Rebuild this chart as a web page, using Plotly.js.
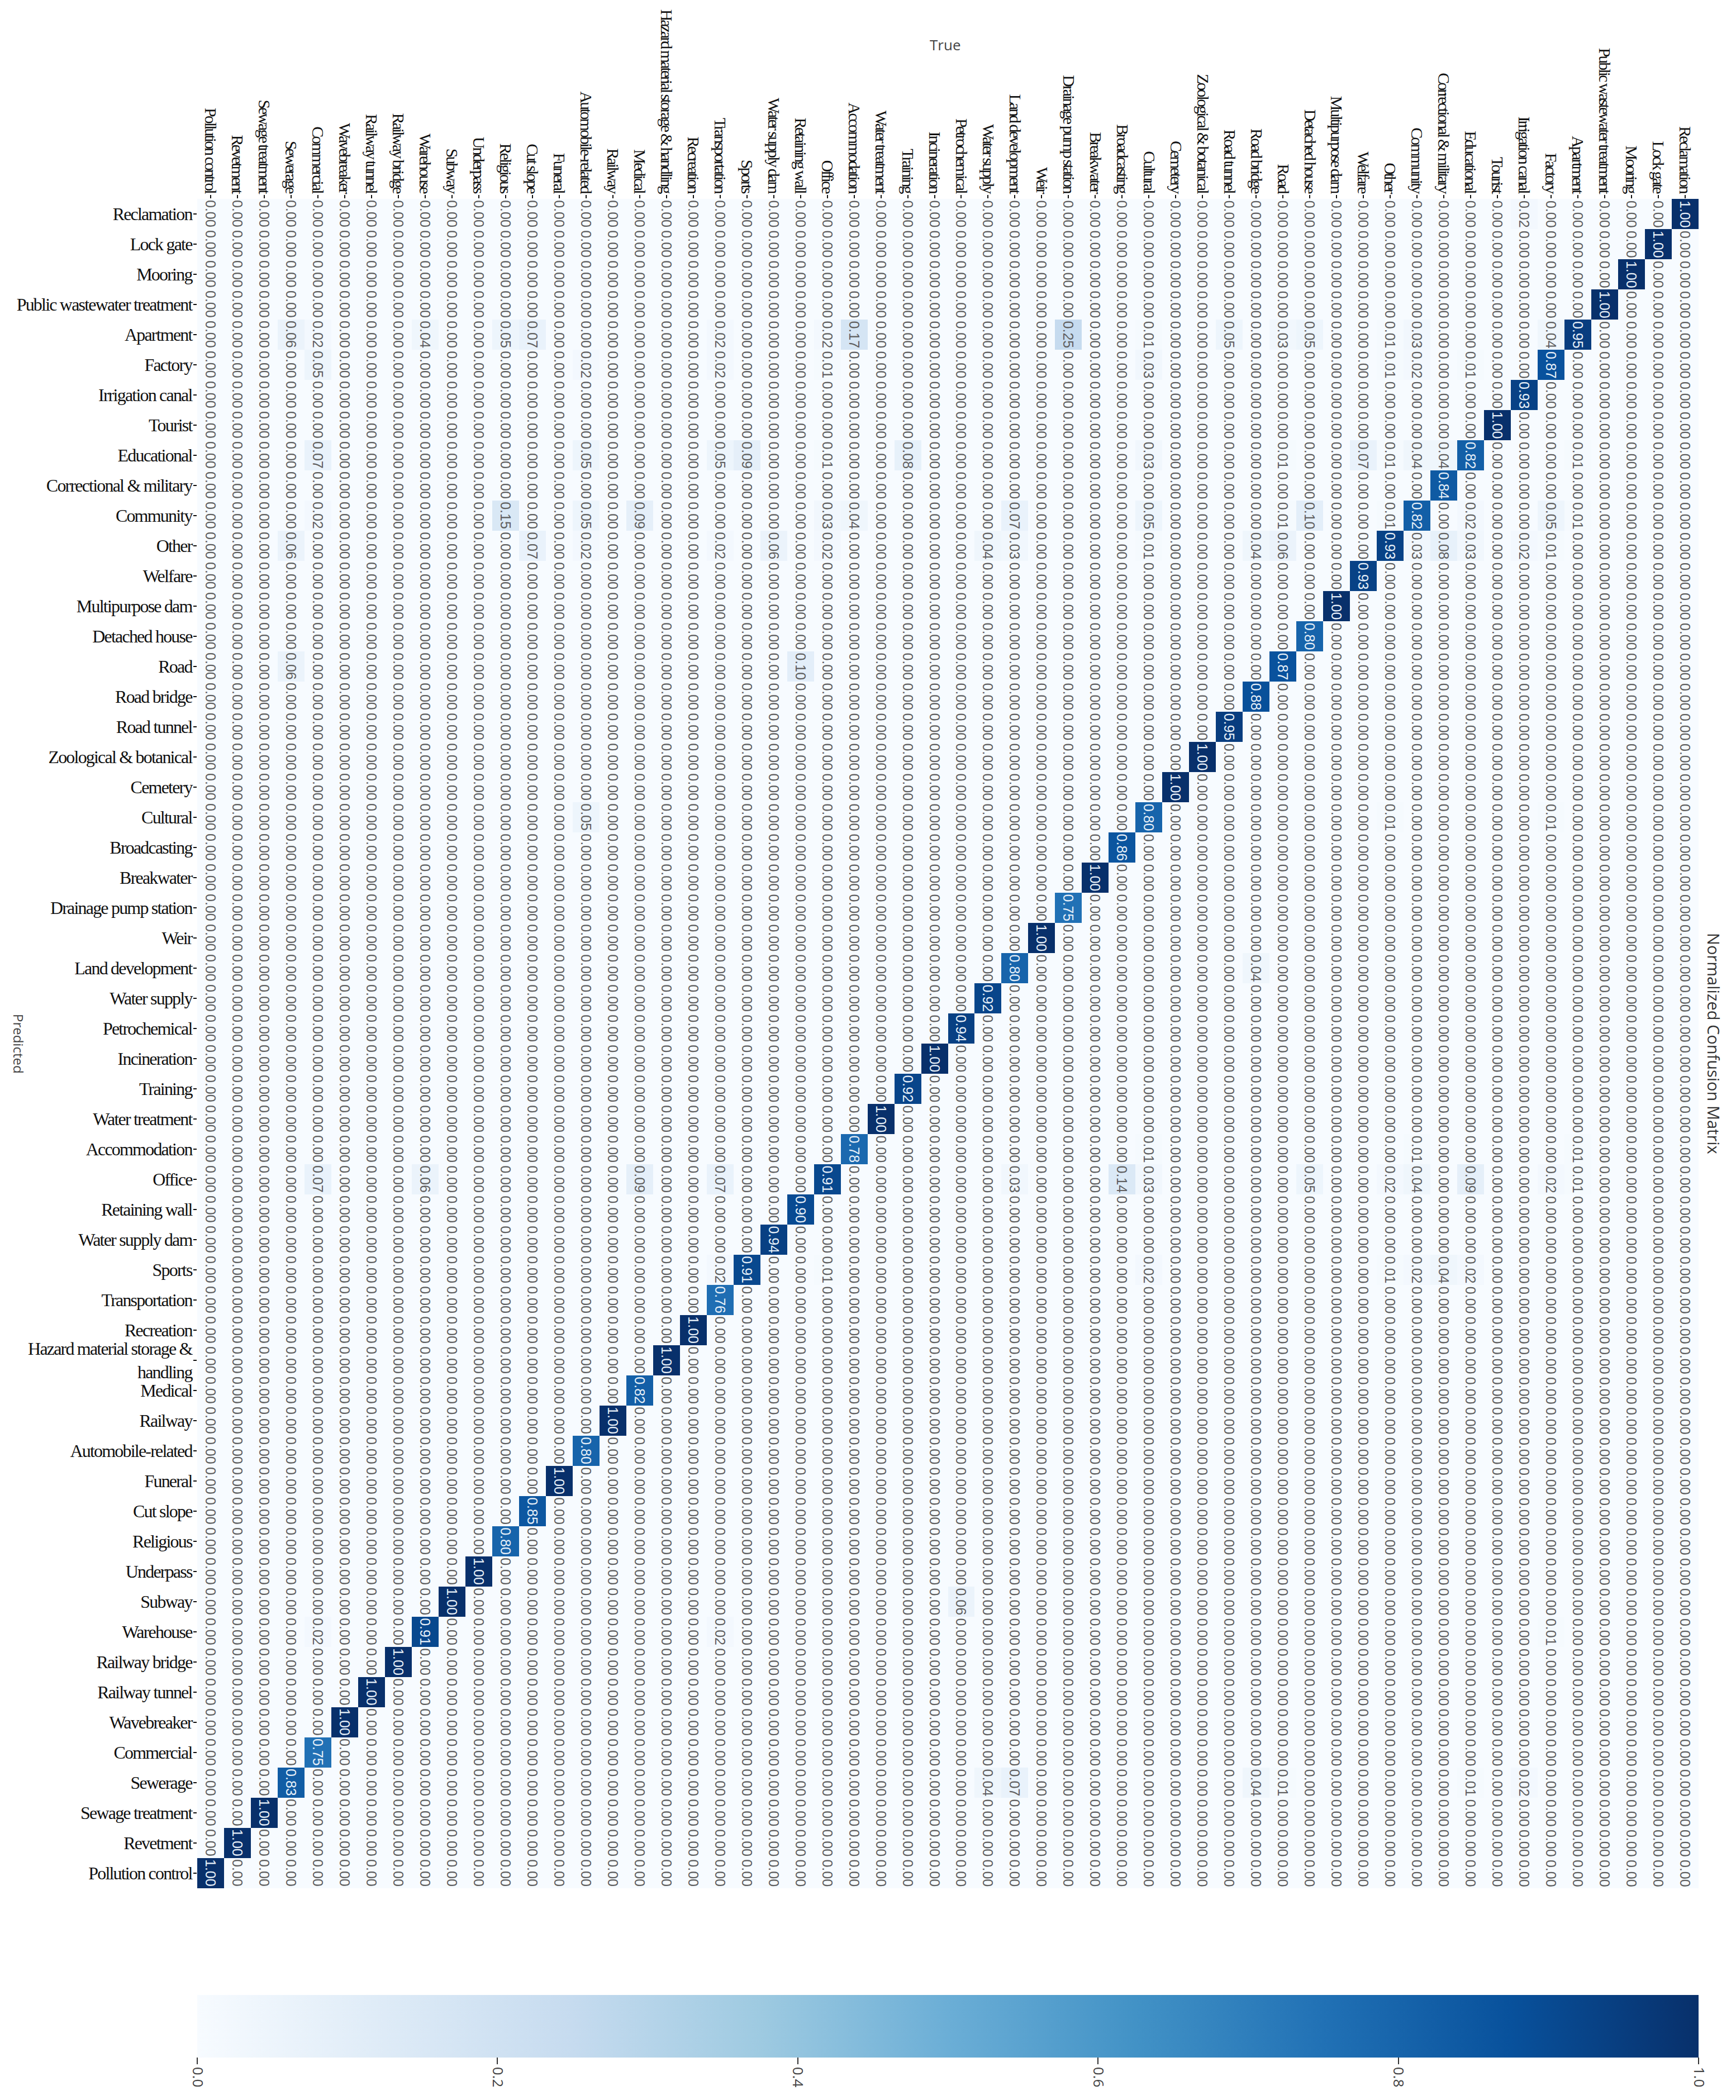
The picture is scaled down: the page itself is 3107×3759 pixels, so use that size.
<!DOCTYPE html>
<html>
<head>
<meta charset="utf-8">
<script src="https://cdn.plot.ly/plotly-3.0.1.min.js"></script>
<style>
    body { margin: 0; background: #fff; }
    .xaxislayer-above .xtick text { letter-spacing: -3px; }
    .yaxislayer-above .ytick text { letter-spacing: -1.8px; }
</style>
</head>
<body>
<div id="plot"></div>
<script>
// classes, left to right on the True axis, bottom to top on the Predicted axis
const labels = ['Pollution control', 'Revetment', 'Sewage treatment', 'Sewerage', 'Commercial', 'Wavebreaker', 'Railway tunnel', 'Railway bridge', 'Warehouse', 'Subway', 'Underpass', 'Religious', 'Cut slope', 'Funeral', 'Automobile-related', 'Railway', 'Medical', 'Hazard material storage & handling', 'Recreation', 'Transportation', 'Sports', 'Water supply dam', 'Retaining wall', 'Office', 'Accommodation', 'Water treatment', 'Training', 'Incineration', 'Petrochemical', 'Water supply', 'Land development', 'Weir', 'Drainage pump station', 'Breakwater', 'Broadcasting', 'Cultural', 'Cemetery', 'Zoological & botanical', 'Road tunnel', 'Road bridge', 'Road', 'Detached house', 'Multipurpose dam', 'Welfare', 'Other', 'Community', 'Correctional & military', 'Educational', 'Tourist', 'Irrigation canal', 'Factory', 'Apartment', 'Public wastewater treatment', 'Mooring', 'Lock gate', 'Reclamation'];

// diagonal, same order as labels
const diagonal = [1.00, 1.00, 1.00, 0.83, 0.75, 1.00, 1.00, 1.00, 0.91, 1.00, 1.00, 0.80, 0.85, 1.00, 0.80, 1.00, 0.82, 1.00, 1.00, 0.76, 0.91, 0.94, 0.90, 0.91, 0.78, 1.00, 0.92, 1.00, 0.94, 0.92, 0.80, 1.00, 0.75, 1.00, 0.86, 0.80, 1.00, 1.00, 0.95, 0.88, 0.87, 0.80, 1.00, 0.93, 0.93, 0.82, 0.84, 0.82, 1.00, 0.93, 0.87, 0.95, 1.00, 1.00, 1.00, 1.00];

// off diagonal cells that are not zero: [predicted, true, value]
const reclamationCells = [['Reclamation', 'Irrigation canal', 0.02]];
const apartmentCells = [['Apartment', 'Sewerage', 0.06], ['Apartment', 'Commercial', 0.02], ['Apartment', 'Warehouse', 0.04], ['Apartment', 'Religious', 0.05], ['Apartment', 'Cut slope', 0.07], ['Apartment', 'Transportation', 0.02], ['Apartment', 'Office', 0.02], ['Apartment', 'Accommodation', 0.17], ['Apartment', 'Drainage pump station', 0.25], ['Apartment', 'Cultural', 0.01], ['Apartment', 'Road tunnel', 0.05], ['Apartment', 'Road', 0.03], ['Apartment', 'Detached house', 0.05], ['Apartment', 'Other', 0.01], ['Apartment', 'Community', 0.03], ['Apartment', 'Factory', 0.04]];
const factoryCells = [['Factory', 'Commercial', 0.05], ['Factory', 'Automobile-related', 0.02], ['Factory', 'Transportation', 0.02], ['Factory', 'Office', 0.01], ['Factory', 'Cultural', 0.03], ['Factory', 'Other', 0.01], ['Factory', 'Community', 0.02], ['Factory', 'Educational', 0.01]];
const educationalCells = [['Educational', 'Commercial', 0.07], ['Educational', 'Automobile-related', 0.05], ['Educational', 'Transportation', 0.05], ['Educational', 'Sports', 0.09], ['Educational', 'Office', 0.01], ['Educational', 'Training', 0.08], ['Educational', 'Cultural', 0.03], ['Educational', 'Road', 0.01], ['Educational', 'Welfare', 0.07], ['Educational', 'Other', 0.01], ['Educational', 'Community', 0.04], ['Educational', 'Correctional & military', 0.04], ['Educational', 'Apartment', 0.01]];
const communityCells = [['Community', 'Commercial', 0.02], ['Community', 'Religious', 0.15], ['Community', 'Automobile-related', 0.05], ['Community', 'Medical', 0.09], ['Community', 'Office', 0.03], ['Community', 'Accommodation', 0.04], ['Community', 'Land development', 0.07], ['Community', 'Cultural', 0.05], ['Community', 'Road', 0.01], ['Community', 'Detached house', 0.10], ['Community', 'Other', 0.01], ['Community', 'Educational', 0.02], ['Community', 'Factory', 0.05], ['Community', 'Apartment', 0.01]];
const otherCells = [['Other', 'Sewerage', 0.06], ['Other', 'Cut slope', 0.07], ['Other', 'Automobile-related', 0.02], ['Other', 'Transportation', 0.02], ['Other', 'Water supply dam', 0.06], ['Other', 'Office', 0.02], ['Other', 'Water supply', 0.04], ['Other', 'Land development', 0.03], ['Other', 'Cultural', 0.01], ['Other', 'Road bridge', 0.04], ['Other', 'Road', 0.06], ['Other', 'Community', 0.03], ['Other', 'Correctional & military', 0.08], ['Other', 'Educational', 0.03], ['Other', 'Irrigation canal', 0.02], ['Other', 'Factory', 0.01]];
const roadCells = [['Road', 'Sewerage', 0.06], ['Road', 'Retaining wall', 0.10]];
const culturalCells = [['Cultural', 'Automobile-related', 0.05], ['Cultural', 'Other', 0.01], ['Cultural', 'Factory', 0.01]];
const landCells = [['Land development', 'Road bridge', 0.04]];
const accommodationCells = [['Accommodation', 'Cultural', 0.01], ['Accommodation', 'Community', 0.01], ['Accommodation', 'Apartment', 0.01]];
const officeCells = [['Office', 'Commercial', 0.07], ['Office', 'Warehouse', 0.06], ['Office', 'Medical', 0.09], ['Office', 'Transportation', 0.07], ['Office', 'Land development', 0.03], ['Office', 'Broadcasting', 0.14], ['Office', 'Cultural', 0.03], ['Office', 'Detached house', 0.05], ['Office', 'Other', 0.02], ['Office', 'Community', 0.04], ['Office', 'Educational', 0.09], ['Office', 'Factory', 0.02], ['Office', 'Apartment', 0.01]];
const sportsCells = [['Sports', 'Transportation', 0.02], ['Sports', 'Office', 0.01], ['Sports', 'Cultural', 0.02], ['Sports', 'Other', 0.01], ['Sports', 'Community', 0.02], ['Sports', 'Correctional & military', 0.04], ['Sports', 'Educational', 0.02]];
const subwayCells = [['Subway', 'Petrochemical', 0.06]];
const warehouseCells = [['Warehouse', 'Commercial', 0.02], ['Warehouse', 'Transportation', 0.02], ['Warehouse', 'Factory', 0.01]];
const sewerageCells = [['Sewerage', 'Water supply', 0.04], ['Sewerage', 'Land development', 0.07], ['Sewerage', 'Road bridge', 0.04], ['Sewerage', 'Road', 0.01], ['Sewerage', 'Educational', 0.01], ['Sewerage', 'Irrigation canal', 0.02]];

const offCells = [].concat(reclamationCells, apartmentCells, factoryCells, educationalCells, communityCells, otherCells, roadCells, culturalCells, landCells, accommodationCells, officeCells, sportsCells, subwayCells, warehouseCells, sewerageCells);

const colorbarTicks = [0, 0.2, 0.4, 0.6, 0.8, 1.0];

// matplotlib Blues
const blues = [[0, '#f7fbff'], [0.125, '#deebf7'], [0.25, '#c6dbef'], [0.375, '#9ecae1'], [0.5, '#6baed6'], [0.625, '#4292c6'], [0.75, '#2171b5'], [0.875, '#08519c'], [1, '#08306b']];

let z = labels.map(() => labels.map(() => 0));
labels.forEach(function (name, i) {
    z[i][i] = diagonal[i];
});
offCells.forEach(function (cell) {
    z[labels.indexOf(cell[0])][labels.indexOf(cell[1])] = cell[2];
});

let annotations = [];
labels.forEach(function (predicted, r) {
    labels.forEach(function (actual, c) {
        annotations.push({
            x: actual,
            y: predicted,
            xref: 'x',
            yref: 'y',
            text: z[r][c].toFixed(2),
            textangle: 90,
            showarrow: false,
            font: { family: 'Liberation Sans', size: 25, color: z[r][c] > 0.5 ? '#e6eff8' : '#5f5f5f' }
        });
    });
});

function sideLabel(text, x, y, angle, size, color) {
    return {
        xref: 'paper', yref: 'paper', x: x, y: y, text: text, textangle: angle,
        xanchor: 'center', yanchor: 'middle', showarrow: false,
        font: { family: 'Open Sans', size: size, color: color }
    };
}
annotations.push(sideLabel('True', 0.4983, 1.0913, 0, 26, '#444444'));
annotations.push(sideLabel('Predicted', -0.1187, 0.5, 90, 24, '#444444'));
annotations.push(sideLabel('Normalized Confusion Matrix', 1.0104, 0.5, 90, 29, '#333333'));

const trace = {
    type: 'heatmap',
    x: labels,
    y: labels,
    z: z,
    zmin: 0,
    zmax: 1,
    colorscale: blues,
    hoverongaps: false,
    colorbar: {
        orientation: 'h',
        xref: 'paper',
        yref: 'paper',
        x: 0,
        xanchor: 'left',
        y: -0.06316,
        yanchor: 'top',
        len: 1,
        lenmode: 'fraction',
        thickness: 112,
        thicknessmode: 'pixels',
        xpad: 0,
        ypad: 0,
        outlinewidth: 0,
        tickvals: colorbarTicks,
        ticktext: colorbarTicks.map(v => v.toFixed(1)),
        ticks: 'outside',
        ticklen: 12,
        tickwidth: 2,
        tickcolor: '#333333',
        tickangle: 90,
        tickfont: { family: 'Open Sans', size: 26, color: '#444444' }
    }
};

const layout = {
    width: 3107,
    height: 3759,
    margin: { l: 353, r: 67, t: 356, b: 379 },
    paper_bgcolor: '#ffffff',
    plot_bgcolor: '#ffffff',
    xaxis: {
        side: 'top',
        type: 'category',
        tickmode: 'array',
        tickvals: labels,
        ticktext: labels,
        tickangle: 90,
        ticks: 'outside',
        ticklen: 6,
        tickwidth: 2,
        tickcolor: '#111111',
        ticklabelstandoff: -6,
        tickfont: { family: 'Liberation Serif', size: 30, color: '#111111' },
        showgrid: false,
        zeroline: false,
        automargin: false
    },
    yaxis: {
        type: 'category',
        tickmode: 'array',
        tickvals: labels,
        ticktext: labels.map(s => s.replace('storage & handling', 'storage &<br>handling')),
        ticks: 'outside',
        ticklen: 6,
        tickwidth: 2,
        tickcolor: '#111111',
        ticklabelstandoff: -4,
        tickfont: { family: 'Liberation Serif', size: 32, color: '#111111' },
        showgrid: false,
        zeroline: false,
        automargin: false
    },
    annotations: annotations
};

Plotly.newPlot('plot', [trace], layout, { displayModeBar: false });
</script>
</body>
</html>
